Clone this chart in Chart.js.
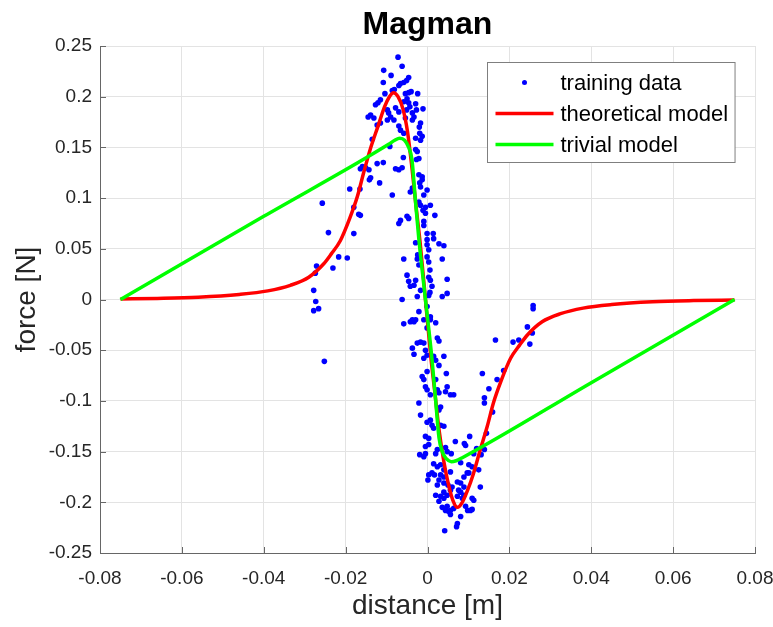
<!DOCTYPE html>
<html>
<head>
<meta charset="utf-8">
<title>Magman</title>
<script src="https://cdn.jsdelivr.net/npm/chart.js@4.4.0/dist/chart.umd.min.js"></script>
<style>
    html, body { margin: 0; padding: 0; background: #fff; }
    #wrap { width: 773px; height: 627px; }
</style>
</head>
<body>
<div id="wrap"><canvas id="magChart" width="773" height="627"></canvas></div>
<script>
// training data (distance [m], force [N])
var trainX = [
    -0.0072, -0.0062, -0.0107, -0.0089, -0.0046, -0.0051, -0.0058, -0.0108, -0.0070, -0.0066,
    -0.0086, -0.0081, -0.0104, -0.0054, -0.0046, -0.0040, -0.0024, -0.0115, -0.0121, -0.0127,
    -0.0050, -0.0058, -0.0046, -0.0029, -0.0139, -0.0145, -0.0098, -0.0095, -0.0078, -0.0070,
    -0.0051, -0.0043, -0.0037, -0.0027, -0.0011, -0.0131, -0.0090, -0.0082, -0.0098, -0.0054,
    -0.0033, -0.0037, -0.0017, -0.0020, -0.0123, -0.0115, -0.0070, -0.0066, -0.0058, -0.0019,
    -0.0013, -0.0029, -0.0017, -0.0092, -0.0029, -0.0025, -0.0021, -0.0027, -0.0059, -0.0123,
    -0.0108, -0.0078, -0.0070, -0.0062, -0.0164, -0.0151, -0.0143, -0.0021, -0.0013, -0.0139,
    -0.0257, -0.0190, -0.0159, -0.0117, -0.0135, -0.0086, -0.0164, -0.0180, -0.0242, -0.0070,
    -0.0066, -0.0050, -0.0046, -0.0042, -0.0037, -0.0017, -0.0001, -0.0013, 0.0007, -0.0005,
    0.0018, -0.0009, -0.0001, 0.0014, -0.0165, -0.0142, -0.0180, -0.0168, -0.0217, -0.0196,
    -0.0231, -0.0271, -0.0274, -0.0278, -0.0273, -0.0266, -0.0278, -0.0252, -0.0062, -0.0019,
    -0.0009, -0.0021, -0.0017, -0.0011, -0.0005, -0.0009, -0.0001, 0.0015, -0.0029, 0.0028,
    0.0040, -0.0001, 0.0003, -0.0001, -0.0058, 0.0036, -0.0024, -0.0021, -0.0025, 0.0003,
    0.0006, -0.0050, -0.0046, -0.0042, -0.0029, -0.0033, 0.0003, 0.0007, 0.0011, 0.0048,
    -0.0017, -0.0025, 0.0003, 0.0006, 0.0036, 0.0048, -0.0021, -0.0037, -0.0029, -0.0001,
    0.0007, -0.0058, -0.0042, -0.0033, -0.0037, -0.0033, 0.0024, 0.0028, 0.0040, 0.0028,
    0.0015, -0.0013, -0.0009, -0.0005, 0.0046, 0.0048, 0.0044, 0.0056, 0.0064, 0.0134,
    0.0150, 0.0166, 0.0170, 0.0186, 0.0209, 0.0223, 0.0244, 0.0250, 0.0258, 0.0258,
    0.0256, 0.0139, 0.0139, 0.0159, 0.0144, 0.0103, 0.0093, 0.0120, 0.0113, 0.0131,
    0.0139, 0.0081, 0.0101, 0.0109, 0.0125, 0.0101, 0.0129, 0.0042, 0.0073, 0.0071,
    -0.0017, -0.0021, -0.0009, 0.0007, 0.0020, -0.0001, -0.0025, -0.0017, -0.0009, -0.0005,
    -0.0001, -0.0009, 0.0020, -0.0001, 0.0020, -0.0001, 0.0024, 0.0028, 0.0007, 0.0032,
    0.0028, 0.0007, 0.0011, 0.0015, 0.0032, 0.0040, -0.0005, -0.0005, 0.0003, 0.0068,
    0.0090, 0.0044, -0.0001, 0.0003, -0.0019, -0.0009, -0.0005, 0.0020, 0.0024, 0.0048,
    0.0058, 0.0015, 0.0024, 0.0032, 0.0040, 0.0003, 0.0011, 0.0017, 0.0032, 0.0040,
    0.0056, 0.0089, 0.0097, 0.0001, 0.0028, 0.0024, 0.0040, 0.0050, 0.0060, 0.0056,
    0.0073, 0.0081, 0.0089, 0.0076, 0.0020, 0.0032, 0.0040, 0.0048, 0.0040, 0.0081,
    0.0089, 0.0085, 0.0073, 0.0109, 0.0113, 0.0028, 0.0036, 0.0048, 0.0056, 0.0064,
    0.0044, 0.0052, 0.0093, 0.0098, 0.0109, 0.0105, 0.0056, 0.0081
];
var trainY = [
    0.239, 0.230, 0.226, 0.221, 0.219, 0.216, 0.214, 0.214, 0.211, 0.213,
    0.206, 0.207, 0.203, 0.203, 0.204, 0.205, 0.203, 0.197, 0.194, 0.192,
    0.198, 0.195, 0.194, 0.193, 0.182, 0.180, 0.187, 0.184, 0.189, 0.185,
    0.187, 0.190, 0.184, 0.187, 0.188, 0.179, 0.180, 0.177, 0.177, 0.179,
    0.180, 0.177, 0.174, 0.170, 0.172, 0.174, 0.171, 0.167, 0.164, 0.164,
    0.161, 0.159, 0.157, 0.151, 0.148, 0.146, 0.139, 0.138, 0.140, 0.134,
    0.135, 0.129, 0.128, 0.130, 0.129, 0.130, 0.128, 0.123, 0.121, 0.120,
    0.095, 0.109, 0.131, 0.115, 0.158, 0.103, 0.083, 0.065, 0.066, 0.075,
    0.078, 0.082, 0.080, 0.106, 0.110, 0.111, 0.108, 0.118, 0.093, 0.091,
    0.083, 0.073, 0.065, 0.065, 0.109, 0.118, 0.091, 0.084, 0.042, 0.041,
    0.031, 0.033, 0.026, 0.009, -0.002, -0.009, -0.011, -0.061, 0.000, 0.115,
    0.103, 0.096, 0.093, 0.088, 0.085, 0.077, 0.059, 0.060, 0.056, 0.055,
    0.053, 0.054, 0.049, 0.042, 0.040, 0.040, 0.044, 0.034, 0.040, 0.037,
    0.029, 0.024, 0.018, 0.013, 0.019, 0.014, 0.022, 0.019, 0.013, 0.020,
    0.009, 0.003, 0.004, 0.007, 0.003, 0.006, -0.012, -0.020, -0.020, -0.007,
    -0.017, -0.024, -0.022, -0.022, -0.048, -0.054, -0.038, -0.041, -0.056, -0.065,
    -0.056, -0.076, -0.079, -0.086, -0.073, -0.086, -0.091, -0.094, -0.094, -0.073,
    -0.088, -0.040, -0.079, -0.070, -0.042, -0.040, -0.027, -0.044, -0.006, -0.009,
    -0.033, -0.097, -0.102, -0.111, -0.132, -0.135, -0.144, -0.147, -0.152, -0.153,
    -0.148, -0.161, -0.163, -0.165, -0.168, -0.171, -0.185, -0.228, -0.221, -0.224,
    -0.114, -0.102, -0.020, -0.020, -0.023, -0.028, -0.043, -0.042, -0.043, -0.050,
    -0.055, -0.058, -0.060, -0.071, -0.079, -0.089, -0.089, -0.092, -0.094, -0.106,
    -0.109, -0.119, -0.124, -0.127, -0.124, -0.125, -0.135, -0.145, -0.143, -0.140,
    -0.142, -0.146, -0.121, -0.137, -0.153, -0.155, -0.152, -0.152, -0.148, -0.150,
    -0.152, -0.162, -0.165, -0.163, -0.168, -0.173, -0.171, -0.173, -0.173, -0.175,
    -0.170, -0.175, -0.171, -0.178, -0.178, -0.183, -0.181, -0.183, -0.185, -0.188,
    -0.180, -0.181, -0.185, -0.188, -0.193, -0.194, -0.190, -0.193, -0.196, -0.190,
    -0.193, -0.196, -0.194, -0.196, -0.198, -0.199, -0.205, -0.204, -0.208, -0.206,
    -0.208, -0.209, -0.204, -0.208, -0.207, -0.208, -0.212, -0.214
];

// theoretical model curve
var theoX = [
    -0.075, -0.066, -0.056, -0.046, -0.039, -0.0335, -0.029, -0.0254, -0.0235, -0.0213,
    -0.019, -0.0171, -0.0156, -0.014, -0.012, -0.0105, -0.0093, -0.0083, -0.0072, -0.0060,
    -0.0049, -0.0038, -0.0028, -0.0018, -0.0005, 0.0008, 0.0018, 0.0028, 0.0040, 0.0051,
    0.0062, 0.0073, 0.0085, 0.0098, 0.0112, 0.0129, 0.0146, 0.0161, 0.018, 0.0203,
    0.0225, 0.0244, 0.028, 0.0325, 0.038, 0.045, 0.055, 0.065, 0.075
];
var theoY = [
    0.0005, 0.0011, 0.0023, 0.005, 0.0085, 0.014, 0.022, 0.035, 0.045, 0.058,
    0.080, 0.102, 0.125, 0.148, 0.172, 0.190, 0.200, 0.204, 0.200, 0.188,
    0.166, 0.130, 0.092, 0.056, 0.0, -0.056, -0.092, -0.128, -0.160, -0.182,
    -0.198, -0.205, -0.200, -0.188, -0.172, -0.148, -0.125, -0.102, -0.080, -0.058,
    -0.045, -0.035, -0.022, -0.014, -0.0085, -0.005, -0.0023, -0.0011, -0.0005
];

// trivial model (piecewise linear)
var trivX = [
    -0.075, -0.040, -0.0095, -0.0080, -0.0068, -0.0056, -0.0046, -0.0038, -0.0030, -0.0021,
    -0.0005, 0.0011, 0.0020, 0.0028, 0.0036, 0.0046, 0.0058, 0.0070, 0.0085, 0.040, 0.075
];
var trivY = [
    0.0, 0.082, 0.153, 0.157, 0.159, 0.157, 0.150, 0.138, 0.100, 0.059,
    0.0, -0.059, -0.100, -0.136, -0.150, -0.157, -0.160, -0.159, -0.156, -0.082, 0.0
];

var xTicks = [-0.08, -0.06, -0.04, -0.02, 0, 0.02, 0.04, 0.06, 0.08];
var yTicks = [-0.25, -0.2, -0.15, -0.1, -0.05, 0, 0.05, 0.1, 0.15, 0.2, 0.25];

(function () {
    var FONT = '"Liberation Sans", Arial, Helvetica, sans-serif';
    var TXT = '#262626';

    function zip(xs, ys) {
        return xs.map(function (x, i) { return { x: x, y: ys[i] }; });
    }

    function tickText(v) {
        return String(Number(v.toFixed(2)));
    }

    // MATLAB style ticks pointing into the plot
    var innerTicks = {
        id: 'innerTicks',
        beforeDatasetsDraw: function (chart) {
            var ctx = chart.ctx, a = chart.chartArea;
            var sx = chart.scales.x, sy = chart.scales.y;
            ctx.save();
            ctx.strokeStyle = '#666';
            ctx.lineWidth = 1;
            ctx.beginPath();
            xTicks.forEach(function (t) {
                var px = Math.round(sx.getPixelForValue(t)) + 0.5;
                ctx.moveTo(px, a.bottom);
                ctx.lineTo(px, a.bottom - 6);
            });
            yTicks.forEach(function (t) {
                var py = Math.round(sy.getPixelForValue(t)) + 0.5;
                ctx.moveTo(a.left, py);
                ctx.lineTo(a.left + 6, py);
            });
            ctx.stroke();
            ctx.restore();
        }
    };

    // boxed legend inside the top right of the plot
    var boxLegend = {
        id: 'boxLegend',
        afterDraw: function (chart) {
            var ctx = chart.ctx, a = chart.chartArea;
            var sets = chart.data.datasets;
            ctx.save();
            ctx.font = '22px ' + FONT;
            var textW = 0;
            sets.forEach(function (d) { textW = Math.max(textW, ctx.measureText(d.label).width); });
            var w = 73 + textW + 7, rowH = 31, h = 100;
            var x0 = Math.round(a.right - 20 - w) + 0.5, y0 = Math.round(a.top + 16) + 0.5;
            ctx.fillStyle = '#fff';
            ctx.fillRect(x0, y0, w, h);
            ctx.strokeStyle = '#7f7f7f';
            ctx.lineWidth = 1;
            ctx.strokeRect(x0, y0, w, h);
            sets.forEach(function (d, i) {
                var cy = y0 + 20 + i * rowH;
                if (d.showLine) {
                    ctx.strokeStyle = d.borderColor;
                    ctx.lineWidth = d.borderWidth;
                    ctx.beginPath();
                    ctx.moveTo(x0 + 8, cy);
                    ctx.lineTo(x0 + 66, cy);
                    ctx.stroke();
                } else {
                    ctx.fillStyle = d.backgroundColor;
                    ctx.beginPath();
                    ctx.arc(x0 + 37, cy, 2.5, 0, Math.PI * 2);
                    ctx.fill();
                }
                ctx.fillStyle = '#000';
                ctx.textBaseline = 'middle';
                ctx.textAlign = 'left';
                ctx.fillText(d.label, x0 + 73, cy + 1);
            });
            ctx.restore();
        }
    };

    var ctx = document.getElementById('magChart').getContext('2d');
    new Chart(ctx, {
        type: 'scatter',
        data: {
            datasets: [{
                label: 'training data',
                data: zip(trainX, trainY),
                backgroundColor: '#0000ff',
                borderWidth: 0,
                pointRadius: 2.8,
                showLine: false,
                order: 3
            }, {
                label: 'theoretical model',
                data: zip(theoX, theoY),
                borderColor: '#ff0000',
                borderWidth: 3.5,
                pointRadius: 0,
                showLine: true,
                cubicInterpolationMode: 'monotone',
                order: 2
            }, {
                label: 'trivial model',
                data: zip(trivX, trivY),
                borderColor: '#00ff00',
                borderWidth: 3.5,
                pointRadius: 0,
                showLine: true,
                cubicInterpolationMode: 'monotone',
                order: 1
            }]
        },
        options: {
            responsive: false,
            animation: false,
            devicePixelRatio: 1,
            layout: { padding: { left: 0, right: 18, top: 0, bottom: 0 } },
            plugins: {
                legend: { display: false },
                tooltip: { enabled: false },
                title: {
                    display: true,
                    text: 'Magman',
                    fullSize: false,
                    color: '#000',
                    font: { family: FONT, size: 32, weight: 'bold' },
                    padding: { top: 6, bottom: 1.6 }
                }
            },
            scales: {
                x: {
                    type: 'linear',
                    min: -0.08,
                    max: 0.08,
                    afterFit: function (s) {
                        s.height = 74;
                        s.paddingLeft = 0;
                        s.paddingRight = 0;
                    },
                    afterBuildTicks: function (s) { s.ticks = xTicks.map(function (v) { return { value: v }; }); },
                    ticks: {
                        color: TXT,
                        padding: 14,
                        maxRotation: 0,
                        font: { family: FONT, size: 19 },
                        callback: tickText
                    },
                    grid: { color: '#e3e3e3', drawTicks: false },
                    border: { color: '#666', width: 1 },
                    title: {
                        display: true,
                        text: 'distance [m]',
                        color: TXT,
                        font: { family: FONT, size: 28 },
                        padding: { top: 0, bottom: 4 }
                    }
                },
                y: {
                    type: 'linear',
                    min: -0.25,
                    max: 0.25,
                    afterFit: function (s) { s.width = 100; },
                    afterBuildTicks: function (s) { s.ticks = yTicks.map(function (v) { return { value: v }; }); },
                    ticks: {
                        color: TXT,
                        padding: 8,
                        font: { family: FONT, size: 19 },
                        callback: tickText
                    },
                    grid: { color: '#e3e3e3', drawTicks: false },
                    border: { color: '#666', width: 1 },
                    title: {
                        display: true,
                        text: 'force [N]',
                        color: TXT,
                        font: { family: FONT, size: 28 },
                        padding: { top: 10, bottom: 0 }
                    }
                }
            }
        },
        plugins: [innerTicks, boxLegend]
    });
})();
</script>
</body>
</html>
